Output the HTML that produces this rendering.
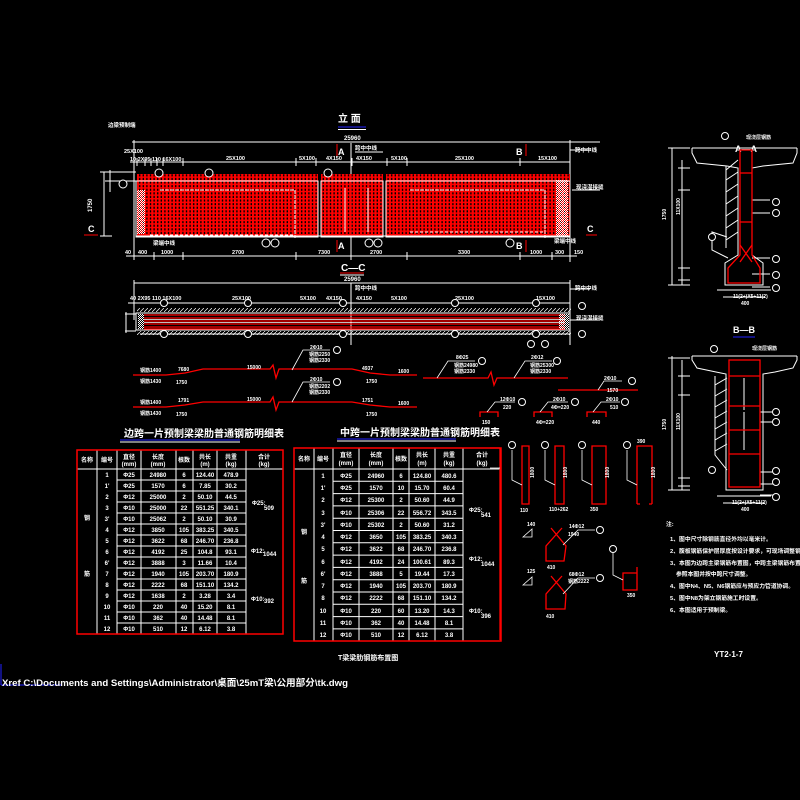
<!DOCTYPE html>
<html><head><meta charset="utf-8"><style>
html,body{margin:0;padding:0;background:#000;}
svg{display:block}
text{font-family:"Liberation Sans","Noto Sans CJK SC",sans-serif;fill:#fff;font-weight:bold}
</style></head><body>
<svg width="800" height="800" viewBox="0 0 800 800" xmlns="http://www.w3.org/2000/svg">
<defs>
<pattern id="grid" width="3.6" height="3.6" patternUnits="userSpaceOnUse">
<rect x="0" y="0" width="2.2" height="3.6" fill="#f00"/>
<rect x="0" y="0" width="3.6" height="1.5" fill="#f00"/>
</pattern>
<pattern id="chk" width="2" height="2" patternUnits="userSpaceOnUse">
<rect width="1" height="1" fill="#fff"/><rect x="1" y="1" width="1" height="1" fill="#fff"/>
</pattern>
<pattern id="hat" width="4" height="4" patternUnits="userSpaceOnUse">
<line x1="0" y1="4" x2="4" y2="0" stroke="#fff" stroke-width="0.7"/>
</pattern>
</defs>
<rect width="800" height="800" fill="#000"/>

<!-- ========== ELEVATION ========== -->
<text x="338" y="122" font-size="10">立 面</text>
<line x1="338" y1="127" x2="366" y2="127" stroke="#22f" stroke-width="1"/>
<line x1="338" y1="129.5" x2="366" y2="129.5" stroke="#fff" stroke-width="1"/>
<text x="344" y="140" font-size="6">25960</text>
<g stroke="#fff" stroke-width="1" fill="none">
<line x1="132" y1="142" x2="600" y2="142"/>
<line x1="130" y1="162" x2="570" y2="162"/>
<line x1="126" y1="256" x2="577" y2="256"/>
<line x1="134" y1="140" x2="134" y2="260"/>
<line x1="570" y1="140" x2="570" y2="262"/>
<line x1="351" y1="143" x2="351" y2="260"/>
<line x1="355" y1="152" x2="383" y2="152"/>
<line x1="570" y1="150" x2="590" y2="150"/>
<line x1="572" y1="190" x2="600" y2="190"/>
<line x1="105" y1="181" x2="136" y2="181"/>
<line x1="104" y1="172" x2="104" y2="236"/>
<line x1="100" y1="236" x2="112" y2="236"/>
<line x1="100" y1="172" x2="112" y2="172"/>
<line x1="110" y1="170" x2="110" y2="192"/>
<line x1="108" y1="172" x2="136" y2="172"/>
</g>
<g stroke="#fff" stroke-width="1">
<line x1="137" y1="158" x2="137" y2="166"/><line x1="145" y1="158" x2="145" y2="166"/><line x1="151" y1="158" x2="151" y2="166"/><line x1="157" y1="158" x2="157" y2="166"/><line x1="163" y1="158" x2="163" y2="166"/><line x1="183" y1="158" x2="183" y2="166"/>
<line x1="296" y1="158" x2="296" y2="166"/><line x1="316" y1="158" x2="316" y2="166"/><line x1="352" y1="158" x2="352" y2="166"/><line x1="387" y1="158" x2="387" y2="166"/><line x1="407" y1="158" x2="407" y2="166"/><line x1="520" y1="158" x2="520" y2="166"/>
<line x1="154" y1="252" x2="154" y2="260"/><line x1="183" y1="252" x2="183" y2="260"/><line x1="296" y1="252" x2="296" y2="260"/><line x1="407" y1="252" x2="407" y2="260"/><line x1="520" y1="252" x2="520" y2="260"/><line x1="552" y1="252" x2="552" y2="260"/>
</g>
<g font-size="5.5">
<text x="124" y="153">25X100</text><text x="130" y="161">10 2X95 110 16X100</text>
<text x="226" y="160">25X100</text><text x="299" y="160">5X100</text><text x="326" y="160">4X150</text><text x="356" y="160">4X150</text><text x="391" y="160">5X100</text><text x="455" y="160">25X100</text><text x="538" y="160">15X100</text>
<text x="138" y="254">400</text><text x="161" y="254">1000</text><text x="232" y="254">2700</text><text x="318" y="254">7300</text><text x="370" y="254">2700</text><text x="458" y="254">3300</text><text x="530" y="254">1000</text><text x="555" y="254">300</text><text x="574" y="254">150</text>
<text x="125" y="254">40</text><text x="108" y="127">边梁预制端</text>
<text x="575" y="152">跨中中线</text><text x="576" y="189">现浇湿接缝</text>
<text x="355" y="150">跨中中线</text><text x="153" y="245">梁端中线</text><text x="554" y="243">梁端中线</text>
</g>
<text x="92" y="212" font-size="6" transform="rotate(-90 92 212)">1750</text>
<rect x="137" y="174" width="181" height="63" fill="url(#grid)"/>
<rect x="321" y="174" width="62" height="63" fill="url(#grid)"/>
<rect x="386" y="174" width="184" height="63" fill="url(#grid)"/>
<g stroke="#fff" stroke-width="1" fill="none">
<rect x="136" y="181" width="182" height="56"/>
<rect x="321" y="181" width="62" height="56"/>
<rect x="386" y="181" width="184" height="56"/>
<path d="M160 190 H295 V238" stroke-dasharray="4 1"/>
<path d="M150 235 H295" stroke-dasharray="3 2"/>
<path d="M410 190 H545 V238" stroke-dasharray="4 1"/>
<path d="M410 232 H545" stroke-dasharray="3 2"/>
<path d="M345 188 V232 M368 188 V232"/>
<path d="M136 236 H570"/>
</g>
<rect x="137" y="190" width="8" height="44" fill="url(#chk)"/>
<rect x="556" y="180" width="12" height="56" fill="url(#chk)"/>
<g stroke="#fff" fill="#000" stroke-width="1">
<circle cx="123" cy="184" r="4"/><circle cx="159" cy="173" r="4"/><circle cx="209" cy="173" r="4"/><circle cx="328" cy="173" r="4"/>
<circle cx="266" cy="243" r="4"/><circle cx="275" cy="243" r="4"/><circle cx="369" cy="243" r="4"/><circle cx="378" cy="243" r="4"/><circle cx="510" cy="243" r="4"/>
</g>
<g font-size="9" font-weight="normal">
<text x="338" y="155">A</text><text x="338" y="249">A</text><text x="516" y="155">B</text><text x="516" y="249">B</text>
<text x="88" y="232">C</text><text x="587" y="232">C</text>
</g>
<g stroke="#f00" stroke-width="1">
<line x1="337" y1="144" x2="337" y2="156"/><line x1="337" y1="240" x2="337" y2="252"/>
<line x1="526" y1="144" x2="526" y2="156"/><line x1="526" y1="240" x2="526" y2="252"/>
<line x1="84" y1="235" x2="98" y2="235"/><line x1="586" y1="235" x2="597" y2="235"/>
</g>

<!-- ========== C-C ========== -->
<text x="341" y="271" font-size="10" font-weight="normal">C—C</text>
<line x1="340" y1="273" x2="364" y2="273" stroke="#f00"/>
<line x1="340" y1="275" x2="364" y2="275" stroke="#fff"/>
<text x="344" y="281" font-size="6">25960</text>
<g stroke="#fff" stroke-width="1" fill="none">
<line x1="134" y1="283" x2="570" y2="283"/>
<line x1="128" y1="303" x2="570" y2="303"/>
<line x1="140" y1="334" x2="570" y2="334"/>
<line x1="134" y1="280" x2="134" y2="320"/>
<line x1="570" y1="280" x2="570" y2="345"/>
<line x1="351" y1="283" x2="351" y2="345"/>
<line x1="125" y1="314" x2="136" y2="314"/><line x1="125" y1="331" x2="136" y2="331"/><line x1="126" y1="312" x2="126" y2="333"/>
<rect x="136" y="313" width="434" height="17"/>
<line x1="570" y1="289" x2="590" y2="289"/><line x1="570" y1="320" x2="600" y2="320"/>
</g>
<rect x="137" y="308" width="434" height="4" fill="url(#hat)"/>
<rect x="137" y="331" width="434" height="4" fill="url(#hat)"/>
<g stroke="#f00" stroke-width="1.3">
<line x1="144" y1="315" x2="565" y2="315"/><line x1="144" y1="318" x2="565" y2="318"/><line x1="144" y1="321" x2="565" y2="321"/><line x1="144" y1="324" x2="565" y2="324"/><line x1="144" y1="327" x2="565" y2="327"/><line x1="144" y1="329" x2="565" y2="329"/>
</g>
<g stroke="#fff" stroke-width="0.8"><line x1="144" y1="319.5" x2="565" y2="319.5"/><line x1="144" y1="322.5" x2="565" y2="322.5"/></g>
<rect x="138" y="314" width="6" height="15" fill="url(#chk)"/>
<rect x="559" y="314" width="10" height="15" fill="url(#chk)"/>
<g stroke="#fff" fill="#000">
<circle cx="164" cy="303" r="3.5"/><circle cx="248" cy="303" r="3.5"/><circle cx="343" cy="303" r="3.5"/><circle cx="455" cy="303" r="3.5"/><circle cx="536" cy="303" r="3.5"/><circle cx="582" cy="306" r="3.5"/>
<circle cx="164" cy="334" r="3.5"/><circle cx="248" cy="334" r="3.5"/><circle cx="343" cy="334" r="3.5"/><circle cx="455" cy="334" r="3.5"/><circle cx="536" cy="334" r="3.5"/><circle cx="582" cy="334" r="3.5"/>
<circle cx="531" cy="344" r="3.5"/><circle cx="545" cy="344" r="3.5"/>
</g>
<g font-size="5.5"><text x="130" y="300">40 2X95 110 16X100</text><text x="232" y="300">25X100</text><text x="300" y="300">5X100</text><text x="326" y="300">4X150</text><text x="356" y="300">4X150</text><text x="391" y="300">5X100</text><text x="455" y="300">25X100</text><text x="536" y="300">15X100</text><text x="575" y="290">跨中中线</text><text x="576" y="320">现浇湿接缝</text><text x="355" y="290">跨中中线</text></g>

<!-- ========== rebar bending sketches ========== -->
<g stroke="#f00" stroke-width="1.3" fill="none">
<path d="M133 375 H166 L185 373 L203 369 H270 L273 365 L276 378 L279 369 H352 L370 373 L390 375 H417"/>
<path d="M133 407 H166 L185 405 L203 402 H270 L273 397 L276 410 L279 402 H352 L370 405 L390 407 H417"/>
<path d="M423 378 H488 L491 372 L494 385 L497 378 H568"/>
<path d="M558 390 H638"/>
<path d="M480 417 V412 H498 V417 M534 417 V412 H552 V417 M587 417 V412 H606 V417"/>
</g>
<g stroke="#fff" stroke-width="0.8" fill="none">
<path d="M292 370 L303 350 H330"/><path d="M292 402 L303 382 H330"/>
<path d="M437 378 L448 361 H475"/><path d="M514 378 L525 361 H552"/>
<path d="M598 390 L604 381 H622"/>
<path d="M487 412 L495 402 H515"/><path d="M540 412 L548 402 H568"/><path d="M593 412 L601 402 H620"/>
</g>
<g stroke="#fff" fill="#000"><circle cx="337" cy="350" r="3.5"/><circle cx="337" cy="382" r="3.5"/><circle cx="482" cy="361" r="3.5"/><circle cx="557" cy="361" r="3.5"/><circle cx="632" cy="381" r="3.5"/><circle cx="522" cy="402" r="3.5"/><circle cx="575" cy="402" r="3.5"/><circle cx="625" cy="402" r="3.5"/></g>
<g font-size="5">
<text x="140" y="372">钢筋1400</text><text x="140" y="383">钢筋1430</text><text x="178" y="371">7680</text><text x="176" y="384">1750</text><text x="247" y="369">15000</text><text x="362" y="370">4937</text><text x="366" y="383">1750</text><text x="398" y="373">1600</text>
<text x="310" y="349">2Φ10</text><text x="309" y="356">钢筋2250</text><text x="309" y="362">钢筋2330</text>
<text x="140" y="404">钢筋1400</text><text x="140" y="415">钢筋1430</text><text x="178" y="402">1791</text><text x="176" y="416">1750</text><text x="247" y="401">15000</text><text x="362" y="402">1751</text><text x="366" y="416">1750</text><text x="398" y="405">1600</text>
<text x="310" y="381">2Φ10</text><text x="309" y="388">钢筋2202</text><text x="309" y="394">钢筋2330</text>
<text x="456" y="359">8Φ25</text><text x="454" y="367">钢筋24980</text><text x="454" y="373">钢筋2330</text>
<text x="531" y="359">2Φ12</text><text x="530" y="367">钢筋25300</text><text x="530" y="373">钢筋2330</text>
<text x="604" y="380">2Φ10</text><text x="607" y="392">1570</text>
<text x="500" y="401">12Φ10</text><text x="503" y="409">220</text><text x="553" y="401">2Φ10</text><text x="551" y="409">4Φ=220</text><text x="606" y="401">2Φ10</text><text x="610" y="409">510</text>
<text x="482" y="424">150</text><text x="536" y="424">4Φ=220</text><text x="592" y="424">440</text>
</g>

<!-- ========== LEFT TABLE ========== -->
<text x="124" y="437" font-size="10">边跨一片预制梁梁肋普通钢筋明细表</text>
<line x1="120" y1="440" x2="240" y2="440" stroke="#22f"/><line x1="120" y1="442" x2="240" y2="442" stroke="#fff"/>
<g stroke="#fff" stroke-width="1" fill="none">
<line x1="77" y1="469" x2="283" y2="469"/>
<line x1="97" y1="450" x2="97" y2="634"/>
<line x1="117" y1="450" x2="117" y2="634"/><line x1="141" y1="450" x2="141" y2="634"/><line x1="176" y1="450" x2="176" y2="634"/><line x1="193" y1="450" x2="193" y2="634"/><line x1="217" y1="450" x2="217" y2="634"/><line x1="246" y1="450" x2="246" y2="634"/>
<path d="M117 480H246M117 491H246M117 502H246M117 513H246M117 524H246M117 535H246M117 546H246M117 557H246M117 568H246M117 579H246M117 590H246M117 601H246M117 612H246M117 623H246"/>
</g>
<rect x="77" y="450" width="206" height="184" fill="none" stroke="#f00" stroke-width="1.5"/>
<g font-size="6" text-anchor="middle">
<text x="87" y="462">名称</text><text x="107" y="462">编号</text><text x="129" y="459">直径</text><text x="129" y="466">(mm)</text><text x="158" y="459">长度</text><text x="158" y="466">(mm)</text><text x="184" y="462">根数</text><text x="205" y="459">共长</text><text x="205" y="466">(m)</text><text x="231" y="459">共重</text><text x="231" y="466">(kg)</text><text x="264" y="459">合计</text><text x="264" y="466">(kg)</text>
<text x="87" y="520">钢</text><text x="87" y="576">筋</text>
</g>
<g font-size="6" text-anchor="middle">
<text x="107" y="477">1</text><text x="129" y="477">Φ25</text><text x="158" y="477">24980</text><text x="184" y="477">6</text><text x="205" y="477">124.40</text><text x="231" y="477">478.9</text>
<text x="107" y="488">1'</text><text x="129" y="488">Φ25</text><text x="158" y="488">1570</text><text x="184" y="488">6</text><text x="205" y="488">7.85</text><text x="231" y="488">30.2</text>
<text x="107" y="499">2</text><text x="129" y="499">Φ12</text><text x="158" y="499">25000</text><text x="184" y="499">2</text><text x="205" y="499">50.10</text><text x="231" y="499">44.5</text>
<text x="107" y="510">3</text><text x="129" y="510">Φ10</text><text x="158" y="510">25000</text><text x="184" y="510">22</text><text x="205" y="510">551.25</text><text x="231" y="510">340.1</text>
<text x="107" y="521">3'</text><text x="129" y="521">Φ10</text><text x="158" y="521">25062</text><text x="184" y="521">2</text><text x="205" y="521">50.10</text><text x="231" y="521">30.9</text>
<text x="107" y="532">4</text><text x="129" y="532">Φ12</text><text x="158" y="532">3850</text><text x="184" y="532">105</text><text x="205" y="532">383.25</text><text x="231" y="532">340.5</text>
<text x="107" y="543">5</text><text x="129" y="543">Φ12</text><text x="158" y="543">3622</text><text x="184" y="543">68</text><text x="205" y="543">246.70</text><text x="231" y="543">236.8</text>
<text x="107" y="554">6</text><text x="129" y="554">Φ12</text><text x="158" y="554">4192</text><text x="184" y="554">25</text><text x="205" y="554">104.8</text><text x="231" y="554">93.1</text>
<text x="107" y="565">6'</text><text x="129" y="565">Φ12</text><text x="158" y="565">3888</text><text x="184" y="565">3</text><text x="205" y="565">11.66</text><text x="231" y="565">10.4</text>
<text x="107" y="576">7</text><text x="129" y="576">Φ12</text><text x="158" y="576">1940</text><text x="184" y="576">105</text><text x="205" y="576">203.70</text><text x="231" y="576">180.9</text>
<text x="107" y="587">8</text><text x="129" y="587">Φ12</text><text x="158" y="587">2222</text><text x="184" y="587">68</text><text x="205" y="587">151.10</text><text x="231" y="587">134.2</text>
<text x="107" y="598">9</text><text x="129" y="598">Φ12</text><text x="158" y="598">1638</text><text x="184" y="598">2</text><text x="205" y="598">3.28</text><text x="231" y="598">3.4</text>
<text x="107" y="609">10</text><text x="129" y="609">Φ10</text><text x="158" y="609">220</text><text x="184" y="609">40</text><text x="205" y="609">15.20</text><text x="231" y="609">8.1</text>
<text x="107" y="620">11</text><text x="129" y="620">Φ10</text><text x="158" y="620">362</text><text x="184" y="620">40</text><text x="205" y="620">14.48</text><text x="231" y="620">8.1</text>
<text x="107" y="631">12</text><text x="129" y="631">Φ10</text><text x="158" y="631">510</text><text x="184" y="631">12</text><text x="205" y="631">6.12</text><text x="231" y="631">3.8</text>
</g>
<g font-size="6"><text x="252" y="505">Φ25:</text><text x="264" y="510">509</text><text x="251" y="553">Φ12:</text><text x="263" y="556">1044</text><text x="251" y="601">Φ10:</text><text x="264" y="603">392</text></g>

<!-- ========== RIGHT TABLE ========== -->
<text x="340" y="436" font-size="10">中跨一片预制梁梁肋普通钢筋明细表</text>
<line x1="337" y1="439" x2="456" y2="439" stroke="#22f"/><line x1="337" y1="441" x2="456" y2="441" stroke="#fff"/>
<g stroke="#fff" stroke-width="1" fill="none">
<line x1="294" y1="469" x2="501" y2="469"/>
<line x1="314" y1="448" x2="314" y2="641"/><line x1="333" y1="448" x2="333" y2="641"/><line x1="359" y1="448" x2="359" y2="641"/><line x1="393" y1="448" x2="393" y2="641"/><line x1="409" y1="448" x2="409" y2="641"/><line x1="435" y1="448" x2="435" y2="641"/><line x1="463" y1="448" x2="463" y2="641"/>
<path d="M333 481.3H463M333 493.6H463M333 505.9H463M333 518.2H463M333 530.5H463M333 542.8H463M333 555.1H463M333 567.4H463M333 579.7H463M333 592H463M333 604.3H463M333 616.6H463M333 628.9H463"/>
</g>
<rect x="294" y="448" width="207" height="193" fill="none" stroke="#f00" stroke-width="1.5"/>
<g font-size="6" text-anchor="middle">
<text x="304" y="461">名称</text><text x="323" y="461">编号</text><text x="346" y="457">直径</text><text x="346" y="465">(mm)</text><text x="376" y="457">长度</text><text x="376" y="465">(mm)</text><text x="401" y="461">根数</text><text x="422" y="457">共长</text><text x="422" y="465">(m)</text><text x="449" y="457">共重</text><text x="449" y="465">(kg)</text><text x="482" y="457">合计</text><text x="482" y="465">(kg)</text>
<text x="304" y="534">钢</text><text x="304" y="583">筋</text>
</g>
<g font-size="6" text-anchor="middle">
<text x="323" y="478">1</text><text x="346" y="478">Φ25</text><text x="376" y="478">24960</text><text x="401" y="478">6</text><text x="422" y="478">124.80</text><text x="449" y="478">480.6</text>
<text x="323" y="490">1'</text><text x="346" y="490">Φ25</text><text x="376" y="490">1570</text><text x="401" y="490">10</text><text x="422" y="490">15.70</text><text x="449" y="490">60.4</text>
<text x="323" y="502">2</text><text x="346" y="502">Φ12</text><text x="376" y="502">25300</text><text x="401" y="502">2</text><text x="422" y="502">50.60</text><text x="449" y="502">44.9</text>
<text x="323" y="515">3</text><text x="346" y="515">Φ10</text><text x="376" y="515">25306</text><text x="401" y="515">22</text><text x="422" y="515">556.72</text><text x="449" y="515">343.5</text>
<text x="323" y="527">3'</text><text x="346" y="527">Φ10</text><text x="376" y="527">25302</text><text x="401" y="527">2</text><text x="422" y="527">50.60</text><text x="449" y="527">31.2</text>
<text x="323" y="539">4</text><text x="346" y="539">Φ12</text><text x="376" y="539">3650</text><text x="401" y="539">105</text><text x="422" y="539">383.25</text><text x="449" y="539">340.3</text>
<text x="323" y="551">5</text><text x="346" y="551">Φ12</text><text x="376" y="551">3622</text><text x="401" y="551">68</text><text x="422" y="551">246.70</text><text x="449" y="551">236.8</text>
<text x="323" y="564">6</text><text x="346" y="564">Φ12</text><text x="376" y="564">4192</text><text x="401" y="564">24</text><text x="422" y="564">100.61</text><text x="449" y="564">89.3</text>
<text x="323" y="576">6'</text><text x="346" y="576">Φ12</text><text x="376" y="576">3888</text><text x="401" y="576">5</text><text x="422" y="576">19.44</text><text x="449" y="576">17.3</text>
<text x="323" y="588">7</text><text x="346" y="588">Φ12</text><text x="376" y="588">1940</text><text x="401" y="588">105</text><text x="422" y="588">203.70</text><text x="449" y="588">180.9</text>
<text x="323" y="600">8</text><text x="346" y="600">Φ12</text><text x="376" y="600">2222</text><text x="401" y="600">68</text><text x="422" y="600">151.10</text><text x="449" y="600">134.2</text>
<text x="323" y="613">10</text><text x="346" y="613">Φ10</text><text x="376" y="613">220</text><text x="401" y="613">60</text><text x="422" y="613">13.20</text><text x="449" y="613">14.3</text>
<text x="323" y="625">11</text><text x="346" y="625">Φ10</text><text x="376" y="625">362</text><text x="401" y="625">40</text><text x="422" y="625">14.48</text><text x="449" y="625">8.1</text>
<text x="323" y="637">12</text><text x="346" y="637">Φ10</text><text x="376" y="637">510</text><text x="401" y="637">12</text><text x="422" y="637">6.12</text><text x="449" y="637">3.8</text>
</g>
<g font-size="6"><text x="469" y="512">Φ25:</text><text x="481" y="517">541</text><text x="469" y="561">Φ12:</text><text x="481" y="566">1044</text><text x="469" y="613">Φ10:</text><text x="481" y="618">396</text></g>
<text x="338" y="660" font-size="7">T梁梁肋钢筋布置图</text>

<!-- ========== small rebar shapes ========== -->
<g stroke="#f00" stroke-width="1.3" fill="none">
<path d="M522 504 V446 H529 V504 Z"/>
<path d="M555 504 V446 H564 V504 Z"/>
<path d="M592 504 V446 H606 V504 Z"/>
<path d="M637 504 V446 H652 V504 M637 504 H640 M649 504 H652"/>
<path d="M551 528 L566 546 L564 561 H546 V546 L562 528"/>
<path d="M551 576 L566 594 L565 609 H546 V594 L562 576"/>
<path d="M623 573 H637 V590 H623 Z M637 573 V567"/>
<line x1="500" y1="448" x2="500" y2="640"/>
<line x1="490" y1="448" x2="500" y2="448"/>
</g>
<g stroke="#fff" stroke-width="0.8" fill="none">
<path d="M512 450 V480 L522 485"/><path d="M545 450 V480 L555 485"/><path d="M582 450 V480 L592 485"/><path d="M627 450 V480 L637 485"/>
<path d="M563 545 L578 530 H595"/><path d="M563 594 L578 578 H595"/>
<path d="M613 552 V575 L623 580"/>
<path d="M523 537 L532 529 V537 Z"/><path d="M523 585 L532 577 V585 Z"/>
<line x1="490" y1="468" x2="500" y2="468"/>
</g>
<g stroke="#fff" fill="#000"><circle cx="512" cy="445" r="3.5"/><circle cx="545" cy="445" r="3.5"/><circle cx="582" cy="445" r="3.5"/><circle cx="627" cy="445" r="3.5"/><circle cx="600" cy="530" r="3.5"/><circle cx="600" cy="578" r="3.5"/><circle cx="613" cy="549" r="3.5"/></g>
<g font-size="5"><text x="520" y="512">110</text><text x="549" y="511">110+262</text><text x="590" y="511">350</text><text x="637" y="443">390</text><text x="534" y="478" transform="rotate(-90 534 478)">1800</text><text x="567" y="478" transform="rotate(-90 567 478)">1800</text><text x="609" y="478" transform="rotate(-90 609 478)">1800</text><text x="655" y="478" transform="rotate(-90 655 478)">1800</text><text x="547" y="569">410</text><text x="546" y="618">410</text><text x="569" y="528">14Φ12</text><text x="568" y="536">1940</text><text x="569" y="576">68Φ12</text><text x="568" y="583">钢筋2222</text><text x="527" y="526">140</text><text x="527" y="573">125</text><text x="627" y="597">350</text></g>

<!-- ========== A-A section ========== -->
<text x="735" y="152" font-size="9" font-weight="normal">A—A</text>
<g stroke="#fff" stroke-width="1" fill="none">
<path d="M692 148 H797"/>
<path d="M692 148 V153 L697 163 L727 166 L738 168 V255 L725 263 V285 H763 V263 L752 255 V168 L763 166 L793 163 L797 153 V148"/>
<line x1="672" y1="148" x2="672" y2="285"/><line x1="682" y1="160" x2="682" y2="285"/>
<path d="M668 148H690M668 285H690M678 168H690M678 190H690M678 268H690M678 280H690"/>
<line x1="723" y1="297" x2="765" y2="297"/><line x1="717" y1="290" x2="771" y2="290"/>
<path d="M726 166 V248 M726 170 L738 160 M726 180 L738 172 M726 192 L738 184 M726 204 L738 196 M726 216 L738 208 M726 228 L738 220 M726 240 L738 232"/>
<path d="M752 200 H770 M752 213 H770 M752 258 H770 M752 274 H770 M752 287 H770"/>
<path d="M727 237 L712 232 V250 L728 258"/>
</g>
<g stroke="#f00" stroke-width="1.3" fill="none">
<path d="M740 150 H752 V255 L760 268 V283 H728 V268 L740 255 Z"/>
<path d="M740 245 L752 262 M752 245 L740 262"/>
<line x1="740" y1="173" x2="752" y2="173"/><line x1="740" y1="222" x2="752" y2="222"/>
</g>
<g stroke="#fff" fill="#000"><circle cx="725" cy="136" r="3.5"/><circle cx="776" cy="202" r="3.5"/><circle cx="776" cy="213" r="3.5"/><circle cx="712" cy="237" r="3.5"/><circle cx="776" cy="259" r="3.5"/><circle cx="776" cy="275" r="3.5"/><circle cx="776" cy="288" r="3.5"/></g>
<g font-size="5"><text x="746" y="139">现浇层钢筋</text><text x="666" y="220" transform="rotate(-90 666 220)">1750</text><text x="680" y="215" transform="rotate(-90 680 215)">11X100</text><text x="733" y="298">11(2+)X5+11(2)</text><text x="741" y="305">400</text></g>

<!-- ========== B-B section ========== -->
<text x="733" y="333" font-size="9" font-weight="normal">B—B</text>
<line x1="733" y1="337" x2="755" y2="337" stroke="#22f"/>
<g stroke="#fff" stroke-width="1" fill="none">
<path d="M692 356 H797"/>
<path d="M692 356 V360 L697 368 L716 372 L726 374 V490 H763 V374 L775 372 L793 368 L797 360 V356"/>
<line x1="672" y1="356" x2="672" y2="490"/><line x1="682" y1="360" x2="682" y2="490"/>
<path d="M668 358H690M668 490H690M678 376H690M678 395H690M678 478H690M678 486H690"/>
<line x1="723" y1="503" x2="765" y2="503"/><line x1="717" y1="496" x2="771" y2="496"/>
<path d="M715 376 V455 L727 470 M715 385 L727 378 M715 396 L727 389 M715 407 L727 400 M715 418 L727 411 M715 429 L727 422 M715 440 L727 433 M715 451 L727 444"/>
<path d="M760 412 H775 M760 422 H775 M760 472 H775 M760 484 H775 M760 495 H775"/>
<path d="M744 378 V410 M744 412 V450"/>
</g>
<g stroke="#f00" stroke-width="1.3" fill="none">
<rect x="729" y="360" width="31" height="127"/>
<line x1="729" y1="376" x2="760" y2="376"/><line x1="729" y1="406" x2="760" y2="406"/><line x1="729" y1="430" x2="760" y2="430"/><line x1="729" y1="454" x2="760" y2="454"/>
</g>
<g stroke="#fff" fill="#000"><circle cx="714" cy="349" r="3.5"/><circle cx="776" cy="412" r="3.5"/><circle cx="776" cy="422" r="3.5"/><circle cx="712" cy="470" r="3.5"/><circle cx="776" cy="471" r="3.5"/><circle cx="776" cy="482" r="3.5"/><circle cx="776" cy="497" r="3.5"/></g>
<g font-size="5"><text x="752" y="350">现浇层钢筋</text><text x="666" y="430" transform="rotate(-90 666 430)">1750</text><text x="680" y="430" transform="rotate(-90 680 430)">11X100</text><text x="732" y="504">11(2+)X5+11(2)</text><text x="741" y="511">400</text></g>

<!-- ========== Notes ========== -->
<g font-size="5.8">
<text x="666" y="526">注:</text>
<text x="670" y="541">1、图中尺寸除钢筋直径外均以毫米计。</text>
<text x="670" y="553">2、腹板钢筋保护层厚度按设计要求，可现场调整钢筋。</text>
<text x="670" y="565">3、本图为边跨主梁钢筋布置图，中跨主梁钢筋布置可</text>
<text x="676" y="576">参照本图并按中跨尺寸调整。</text>
<text x="670" y="588">4、图中N4、N5、N6钢筋应与预应力管道协调。</text>
<text x="670" y="600">5、图中N8为架立钢筋施工时设置。</text>
<text x="670" y="612">6、本图适用于预制梁。</text>
</g>
<text x="714" y="657" font-size="8">YT2-1-7</text>

<!-- Xref -->
<line x1="1" y1="664" x2="1" y2="685" stroke="#22f"/>
<line x1="1" y1="685" x2="62" y2="685" stroke="#22f"/>
<text x="2" y="686" font-size="9.6" font-weight="normal" textLength="346" lengthAdjust="spacingAndGlyphs" style="fill:#fff">Xref C:\Documents and Settings\Administrator\桌面\25mT梁\公用部分\tk.dwg</text>
</svg>
</body></html>
